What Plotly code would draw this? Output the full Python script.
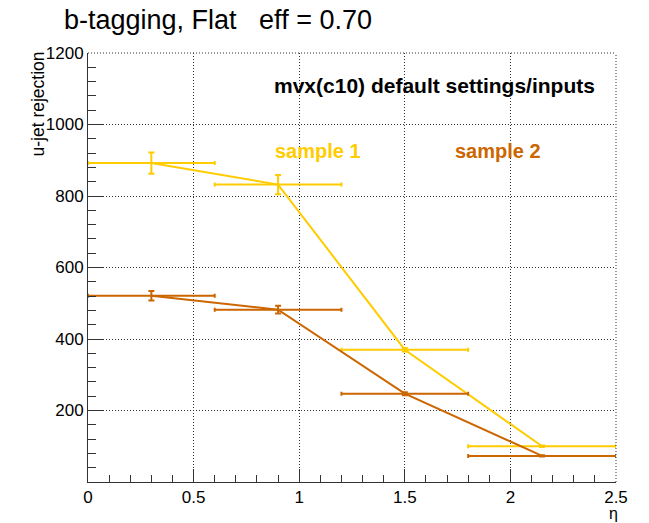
import plotly.graph_objects as go

# ---- data ----
eta_s1 = [0.3, 0.9, 1.5, 2.15]
eta_err_s1 = [0.3, 0.3, 0.3, 0.35]
rej_s1 = [892, 832, 370, 100]
rej_err_s1 = [30, 27, 5, 2]

eta_s2 = [0.3, 0.9, 1.5, 2.15]
eta_err_s2 = [0.3, 0.3, 0.3, 0.35]
rej_s2 = [521, 482, 247, 73]
rej_err_s2 = [13, 11, 4, 2]

x_ticks = [0, 0.5, 1, 1.5, 2, 2.5]
x_tick_labels = ["0", "0.5", "1", "1.5", "2", "2.5"]
y_ticks = [200, 400, 600, 800, 1000, 1200]

col1 = "#FFCC00"
col2 = "#CC6600"
FONT = "Liberation Sans, Arial, Helvetica, sans-serif"
OFF = 8  # page body margin
W, H = 649 - OFF, 523 - OFF
DOT = "1px,2px"


def px(x):
    return (x - OFF) / W


def py(y):
    return 1 - (y - OFF) / H


fig = go.Figure()
for xs, xe, ys, ye, c, name in [
    (eta_s1, eta_err_s1, rej_s1, rej_err_s1, col1, "sample 1"),
    (eta_s2, eta_err_s2, rej_s2, rej_err_s2, col2, "sample 2"),
]:
    fig.add_trace(go.Scatter(
        x=xs, y=ys, mode="lines", name=name,
        line=dict(color=c, width=2),
        error_x=dict(type="data", array=xe, symmetric=True, color=c, thickness=2, width=2),
        error_y=dict(type="data", array=ye, symmetric=True, color=c, thickness=2, width=3),
        showlegend=False,
    ))

axis_common = dict(
    showline=True, linecolor="#333333", linewidth=1,
    ticks="inside", tickcolor="#333333", tickwidth=1,
    showgrid=True, gridcolor="#333333", griddash=DOT, gridwidth=1,
    zeroline=False, automargin=False,
    tickfont=dict(family=FONT, size=17, color="black"),
)

fig.update_xaxes(
    range=[0, 2.5], tickvals=x_ticks, ticktext=x_tick_labels, ticklen=13,
    domain=[px(88), px(616)],
    minor=dict(dtick=0.1, ticks="inside", ticklen=7, tickcolor="#333333", showgrid=False),
    **axis_common,
)
fig.update_yaxes(
    range=[0, 1200], tickvals=y_ticks, ticklen=15,
    domain=[py(482), py(53)],
    minor=dict(dtick=40, ticks="inside", ticklen=8, tickcolor="#333333", showgrid=False),
    **axis_common,
)

# dotted top and right frame
fig.add_shape(type="line", xref="x domain", yref="y domain", x0=0, x1=1, y0=1, y1=1,
              line=dict(color="#333333", width=1, dash=DOT))
fig.add_shape(type="line", xref="x domain", yref="y domain", x0=1, x1=1, y0=0, y1=1,
              line=dict(color="#333333", width=1, dash=DOT))

annots = [
    dict(text="b-tagging, Flat\u00a0\u00a0\u00a0eff = 0.70", x=px(62), y=py(20),
         xanchor="left", yanchor="middle", font=dict(family=FONT, size=27, color="black")),
    dict(text="<b>mvx(c10) default settings/inputs</b>", x=px(272), y=py(85.5),
         xanchor="left", yanchor="middle", font=dict(family=FONT, size=21, color="black")),
    dict(text="<b>sample 1</b>", x=px(273), y=py(151),
         xanchor="left", yanchor="middle", font=dict(family=FONT, size=20, color=col1)),
    dict(text="<b>sample 2</b>", x=px(452.5), y=py(151),
         xanchor="left", yanchor="middle", font=dict(family=FONT, size=20, color=col2)),
    dict(text="u-jet rejection", x=px(37), y=py(50), textangle=-90,
         xanchor="center", yanchor="top", font=dict(family=FONT, size=17.5, color="black")),
    dict(text="η", x=px(613), y=py(513), xanchor="center", yanchor="middle",
         font=dict(family=FONT, size=16, color="black")),
]
for a in annots:
    fig.add_annotation(xref="paper", yref="paper", showarrow=False, **a)

fig.update_layout(
    width=W, height=H,
    margin=dict(l=0, r=0, t=0, b=0),
    paper_bgcolor="white", plot_bgcolor="white",
)

fig.write_html("out.html")
